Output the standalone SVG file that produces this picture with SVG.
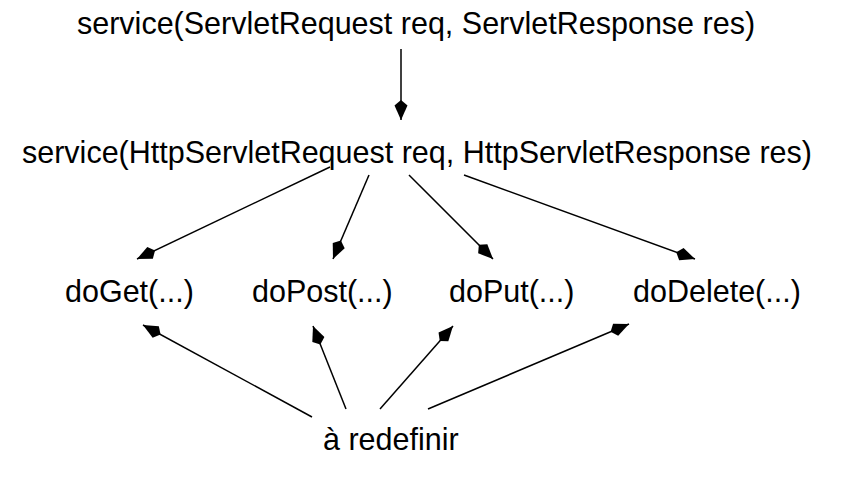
<svg xmlns="http://www.w3.org/2000/svg" width="843" height="477" viewBox="0 0 843 477">
<style>
text{font-family:"Liberation Sans",Arial,Helvetica,sans-serif;font-size:30.5px;fill:#000}
.c line{stroke:#000;stroke-width:1.5;fill:none;marker-end:url(#ah)}
</style>
<defs>
<marker id="ah" markerUnits="userSpaceOnUse" markerWidth="24" markerHeight="16" viewBox="-22 -8 24 16" refX="0" refY="0" orient="auto">
<path d="M0,0 L-14.5,-6.5 L-20,0 L-14.5,6.5 Z" fill="#000"/>
</marker>
</defs>
<rect width="843" height="477" fill="#fff"/>
<g id="n-service1"><text x="77" y="34">service(ServletRequest req, ServletResponse res)</text></g>
<g id="n-service2"><text x="22" y="163">service(HttpServletRequest req, HttpServletResponse res)</text></g>
<g id="n-doGet"><text x="65" y="302">doGet(...)</text></g>
<g id="n-doPost"><text x="252" y="302">doPost(...)</text></g>
<g id="n-doPut"><text x="449" y="302">doPut(...)</text></g>
<g id="n-doDelete"><text x="633" y="302">doDelete(...)</text></g>
<g id="n-redef"><text x="323" y="450">à redefinir</text></g>
<g class="c" id="connectors">
<line x1="401" y1="49" x2="401" y2="120"/>
<line x1="330" y1="167" x2="137" y2="259"/>
<line x1="369" y1="175" x2="333" y2="259"/>
<line x1="409" y1="175" x2="493" y2="259"/>
<line x1="464" y1="175" x2="695" y2="259"/>
<line x1="312" y1="417" x2="143" y2="325"/>
<line x1="346" y1="409" x2="313" y2="326"/>
<line x1="380" y1="409" x2="453" y2="326"/>
<line x1="428" y1="409" x2="629" y2="324"/>
</g>
</svg>
